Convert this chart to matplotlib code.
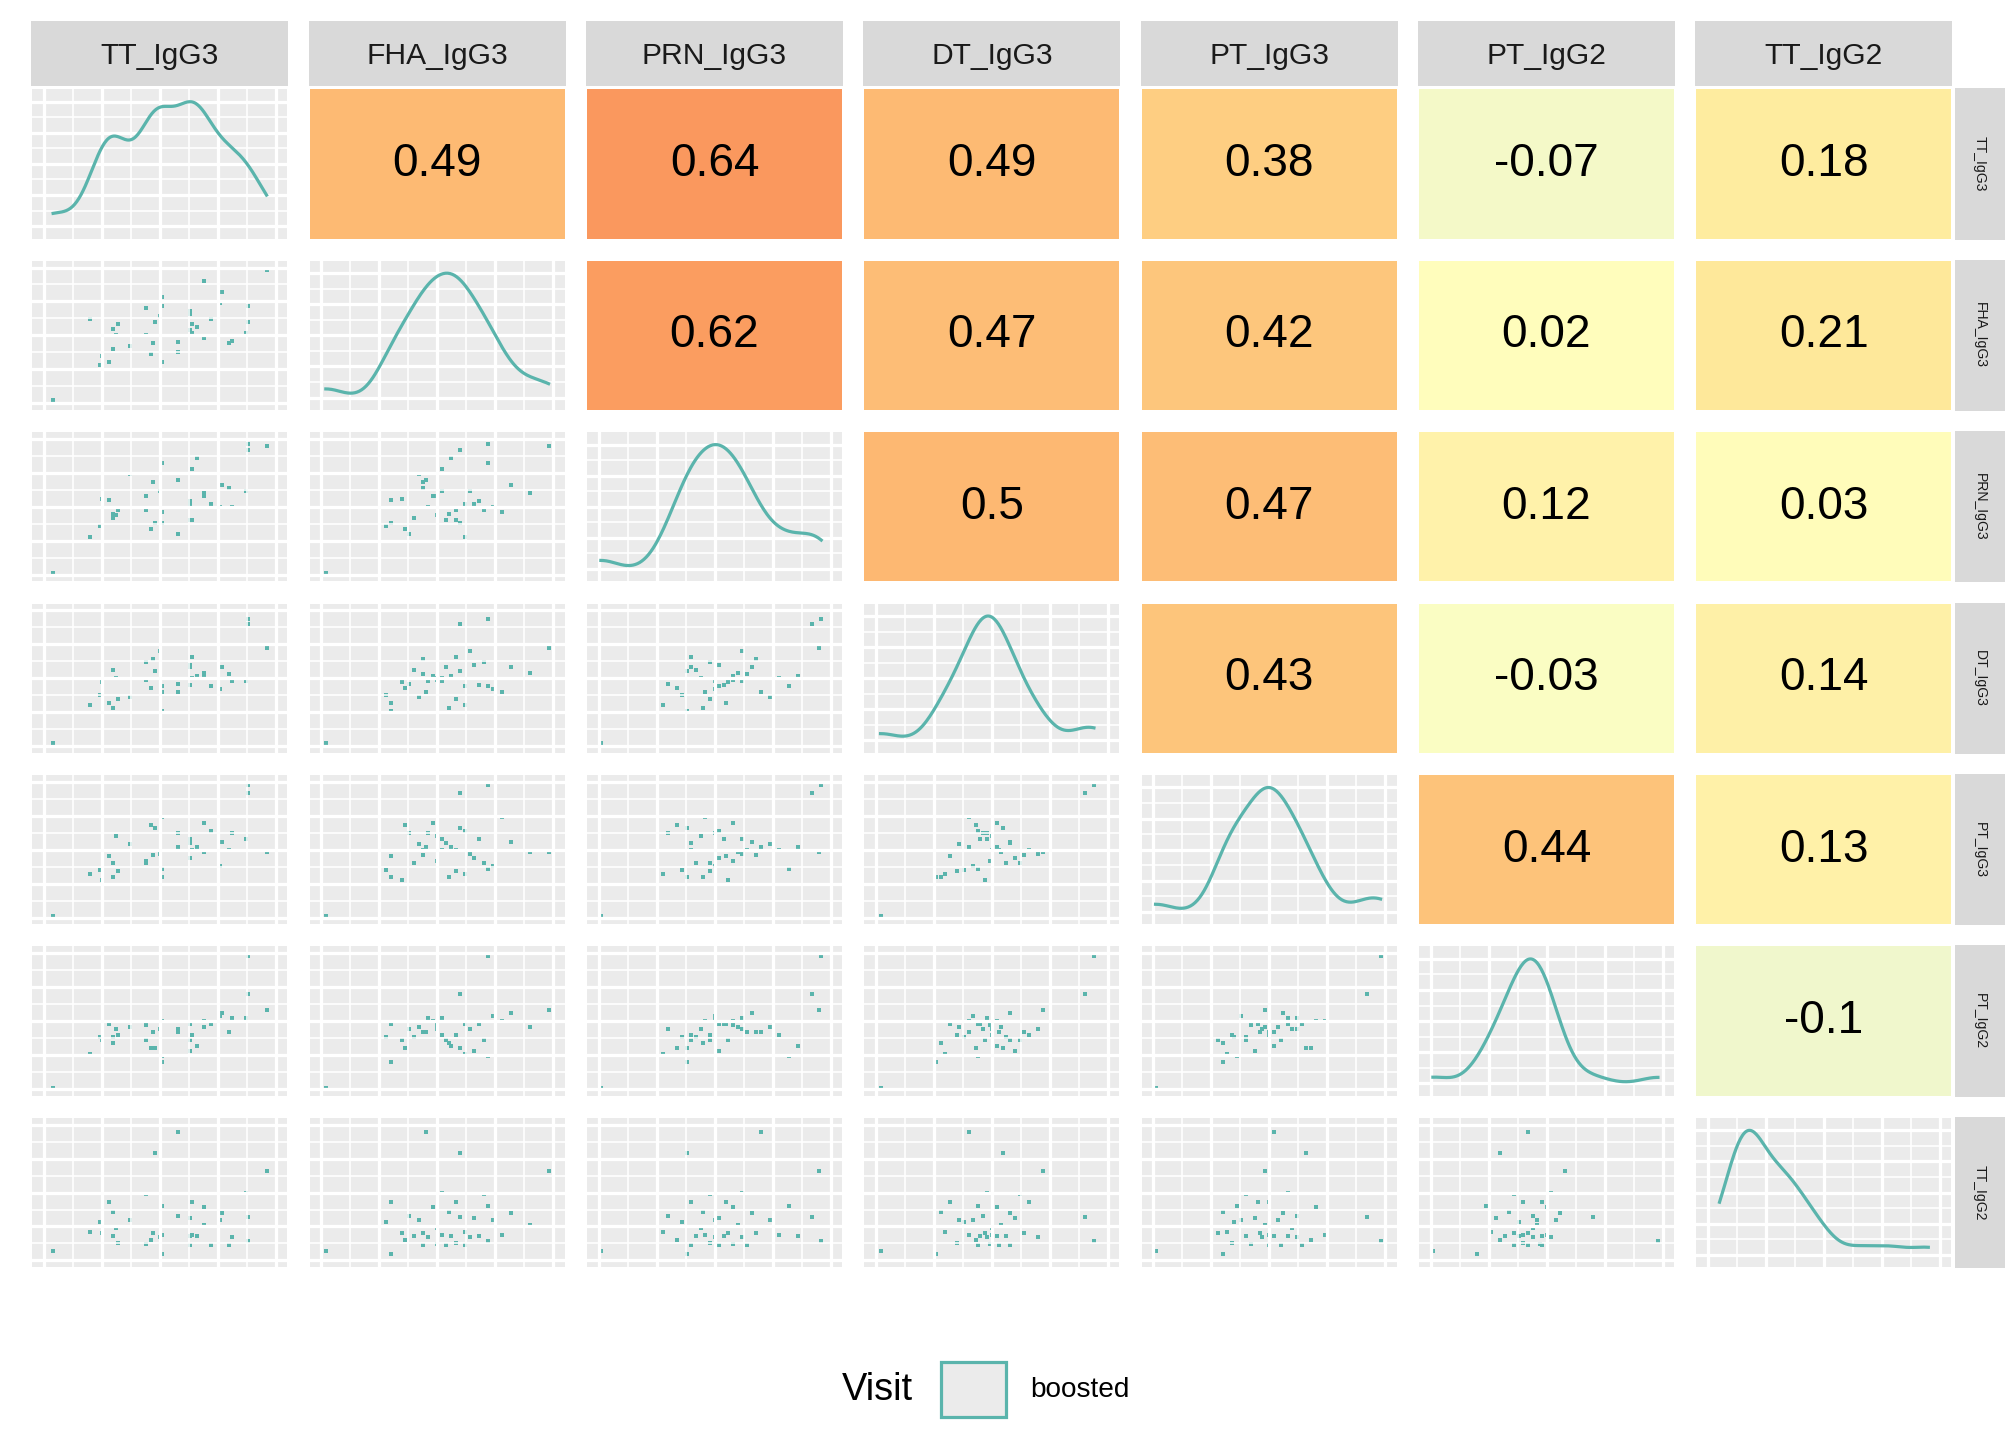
import numpy as np
import matplotlib.pyplot as plt
from matplotlib.colors import LinearSegmentedColormap
from matplotlib.patches import Rectangle

plt.rcParams["font.family"] = ["Liberation Sans", "DejaVu Sans"]

variables = ["TT_IgG3", "FHA_IgG3", "PRN_IgG3", "DT_IgG3", "PT_IgG3", "PT_IgG2", "TT_IgG2"]

# normalised antibody levels per sample
TT_IgG3 = [.58, .48, .96, .87, .44, .28, .64, .51, .69, .30, .77, .58, .63, .37, .76, .88, .24, .69, .31,
           .20, .25, .47, .51, .64, .30, .63, .66, .81, .50, .46, .88, .32, .44, .63, .72, .80, .04, .51]
FHA_IgG3 = [.45, .60, .98, .52, .70, .30, .58, .72, .48, .55, .82, .38, .66, .42, .74, .60, .28, .90, .50,
            .62, .35, .44, .78, .52, .40, .68, .56, .46, .64, .36, .72, .58, .50, .54, .62, .44, .02, .30]
PRN_IgG3 = [.70, .38, .95, .62, .48, .55, .40, .82, .58, .45, .66, .30, .52, .74, .50, .92, .36, .60, .44,
            .28, .56, .68, .46, .78, .42, .54, .86, .50, .62, .34, .96, .48, .58, .40, .52, .64, .01, .38]
DT_IgG3 = [.40, .55, .72, .48, .62, .32, .66, .44, .52, .28, .58, .46, .60, .36, .42, .90, .38, .54, .50,
           .30, .47, .64, .40, .50, .56, .45, .52, .48, .70, .43, .94, .35, .49, .58, .44, .53, .02, .26]
PT_IgG3 = [.52, .66, .48, .58, .40, .45, .50, .36, .70, .30, .56, .62, .44, .54, .38, .92, .35, .48, .60,
           .32, .28, .46, .74, .50, .40, .58, .52, .62, .47, .68, .98, .34, .42, .55, .64, .50, .01, .30]
PT_IgG2 = [.42, .30, .58, .52, .36, .48, .40, .24, .50, .34, .56, .44, .28, .46, .54, .70, .38, .46, .44,
           .26, .36, .42, .50, .40, .38, .48, .32, .52, .44, .30, .98, .40, .47, .36, .48, .42, .01, .20]
TT_IgG2 = [.95, .79, .66, .50, .49, .43, .43, .40, .39, .36, .35, .33, .31, .30, .30, .32, .28, .26, .24,
           .21, .20, .20, .19, .19, .18, .18, .18, .17, .17, .15, .14, .13, .12, .11, .11, .11, .07, .05]

# correlations as printed in the upper panels
corr = {
    (0, 1): 0.49, (0, 2): 0.64, (0, 3): 0.49, (0, 4): 0.38, (0, 5): -0.07, (0, 6): 0.18,
    (1, 2): 0.62, (1, 3): 0.47, (1, 4): 0.42, (1, 5): 0.02, (1, 6): 0.21,
    (2, 3): 0.5, (2, 4): 0.47, (2, 5): 0.12, (2, 6): 0.03,
    (3, 4): 0.43, (3, 5): -0.03, (3, 6): 0.14,
    (4, 5): 0.44, (4, 6): 0.13,
    (5, 6): -0.1,
}

data = [np.array(v) for v in [TT_IgG3, FHA_IgG3, PRN_IgG3, DT_IgG3, PT_IgG3, PT_IgG2, TT_IgG2]]
teal = "#5ab4ac"
cmap = LinearSegmentedColormap.from_list(
    "c", [(0, "#f0f7cc"), (0.125, "#ffffbf"), (0.45, "#fee391"), (0.75, "#fdb872"), (1, "#f98b55")])

def cval(r):
    return (r + 0.1) / 0.8

fig = plt.figure(figsize=(14, 10), dpi=144)
n = 7
left, right, top, bottom = 0.016, 0.968, 0.938, 0.12
gap = 0.011
w = (right - left - gap * (n - 1)) / n
h = (top - bottom - gap * 1.4 * (n - 1)) / n

def style_grid(ax, y0, y1):
    ax.set_facecolor("#ebebeb")
    ax.set_xticks(np.linspace(0, 1, 5))
    ax.set_xticks(np.linspace(0.125, 0.875, 4), minor=True)
    yt = np.linspace(y0, y1, 9)
    ax.set_yticks(yt[::2])
    ax.set_yticks(yt[1::2], minor=True)
    ax.grid(True, which="major", color="white", lw=1.6)
    ax.grid(True, which="minor", color="white", lw=0.8)
    ax.tick_params(which="both", length=0, labelbottom=False, labelleft=False)
    for s in ax.spines.values():
        s.set_visible(False)

for i in range(n):
    for j in range(n):
        x0 = left + j * (w + gap)
        y0 = top - (i + 1) * h - i * gap * 1.4
        ax = fig.add_axes([x0, y0, w, h])
        if i < j:
            r = corr[(i, j)]
            ax.set_facecolor(cmap(cval(r)))
            ax.set_xticks([]); ax.set_yticks([])
            for s in ax.spines.values():
                s.set_visible(False)
            ax.text(0.5, 0.5, f"{r:g}", ha="center", va="center", fontsize=23, transform=ax.transAxes)
        elif i == j:
            d = data[i]
            xs = np.linspace(d.min(), d.max(), 200)
            bw = 0.07
            dens = np.exp(-0.5 * ((xs[:, None] - d[None, :]) / bw) ** 2).sum(axis=1)
            style_grid(ax, 0, dens.max())
            ax.plot(xs, dens, color=teal, lw=1.6)
            ax.set_xlim(-0.05, 1.05)
            ax.set_ylim(-dens.max() * 0.1, dens.max() * 1.1)
        else:
            style_grid(ax, 0, 1)
            ax.scatter(data[j], data[i], s=3, marker="s", color=teal, lw=0)
            ax.set_xlim(-0.05, 1.05)
            ax.set_ylim(-0.05, 1.05)
        if i == 0:
            fig.patches.append(Rectangle((x0, top + 0.003), w, 0.044, transform=fig.transFigure,
                                         color="#d9d9d9", zorder=0))
            fig.text(x0 + w / 2, top + 0.023, variables[j], ha="center", va="center", fontsize=15,
                     color="#1a1a1a")
        if j == n - 1:
            fig.patches.append(Rectangle((right + 0.002, y0), 0.024, h, transform=fig.transFigure,
                                         color="#d9d9d9", zorder=0))
            fig.text(right + 0.014, y0 + h / 2, variables[i], ha="center", va="center", fontsize=7,
                     rotation=-90, color="#1a1a1a")

# legend
fig.text(0.435, 0.035, "Visit", ha="center", va="center", fontsize=19)
fig.patches.append(Rectangle((0.467, 0.016), 0.032, 0.038, transform=fig.transFigure,
                             facecolor="#ebebeb", edgecolor=teal, lw=1.6))
fig.text(0.511, 0.035, "boosted", ha="left", va="center", fontsize=14)

fig.savefig("out.png", dpi=144)
